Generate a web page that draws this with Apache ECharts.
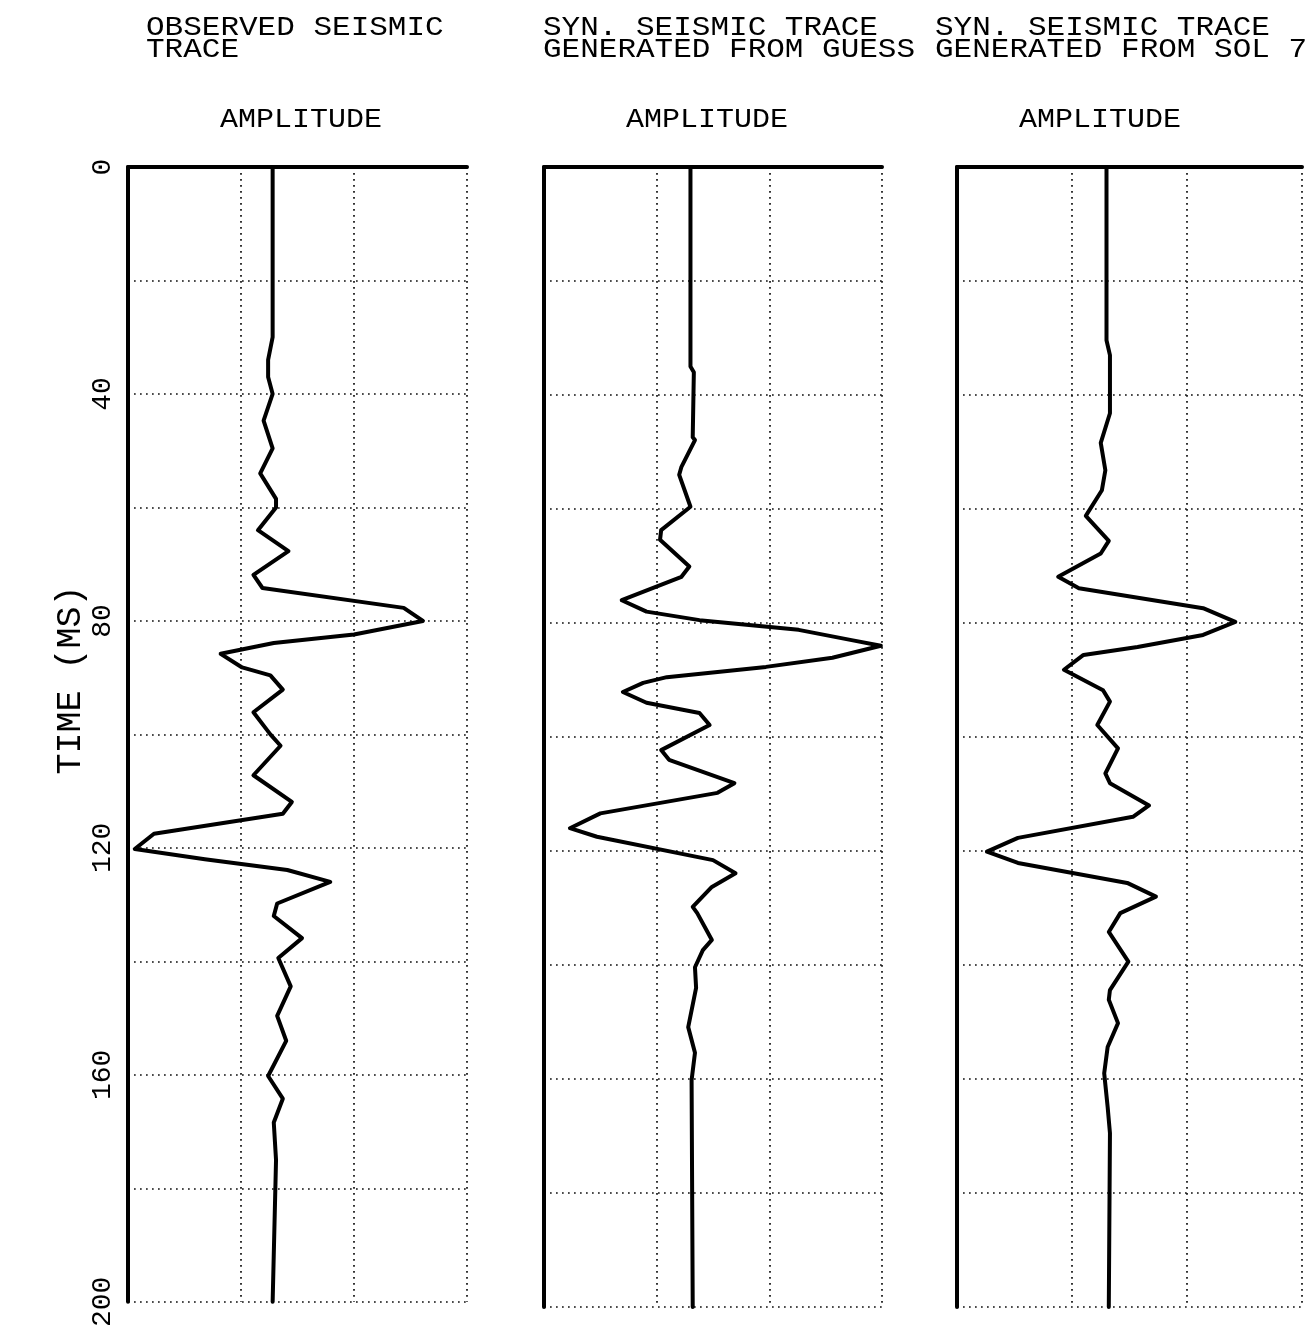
<!DOCTYPE html>
<html><head><meta charset="utf-8">
<script src="https://cdn.jsdelivr.net/npm/echarts@6/dist/echarts.min.js"></script>
<style>html,body{margin:0;padding:0;background:#fff}#chart{width:1310px;height:1330px}</style>
</head><body><div id="chart"></div>
<script>
// ---- data ----
const timeTickLabels = [0, 40, 80, 120, 160, 200];
const panelTitles = ['OBSERVED SEISMIC\nTRACE', 'SYN. SEISMIC TRACE\nGENERATED FROM GUESS', 'SYN. SEISMIC TRACE\nGENERATED FROM SOL 7'];
const ampAxisName = 'AMPLITUDE';
const timeAxisName = 'TIME (MS)';

const obsTime = [0, 30, 34, 37, 40, 44.7, 49.6, 54, 58.5, 60, 64, 67.7, 71.9, 74.2, 77.7, 80, 82.4, 83.9, 85.8, 88.2, 89.6, 92.1, 96.1, 100, 102, 107.2, 111.9, 114, 117.5, 120.2, 122, 123.9, 126, 129.8, 132, 135.9, 139.4, 144.4, 149.6, 154, 160.2, 164.2, 168.4, 175, 200];
const obsAmp  = [0, 0, -0.04, -0.04, 0, -0.08, 0, -0.11, 0.03, 0.03, -0.13, 0.14, -0.17, -0.09, 1.16, 1.33, 0.72, 0.01, -0.46, -0.27, -0.02, 0.09, -0.17, -0.02, 0.07, -0.17, 0.17, 0.09, -1.05, -1.22, -0.6, 0.13, 0.51, 0.04, 0.01, 0.26, 0.05, 0.16, 0.04, 0.12, -0.04, 0.09, 0.01, 0.03, 0];

const guessTime = [0, 35, 36, 47.4, 47.9, 52.6, 54, 59.6, 63.7, 65.4, 70.1, 71.9, 76, 78, 79.5, 81.2, 83, 84, 86.1, 87.7, 89.5, 90.5, 92.1, 94, 95.8, 97.9, 102.3, 104, 108.1, 109.8, 113.4, 116, 117.5, 121.6, 123.9, 126.3, 129.8, 130.9, 135.6, 137.4, 140.4, 144, 150.9, 155.4, 160.2, 200];
const guessAmp  = [0, 0, 0.03, 0.02, 0.04, -0.08, -0.1, 0, -0.26, -0.27, -0.01, -0.08, -0.61, -0.39, 0.08, 0.96, 1.43, 1.69, 1.26, 0.67, -0.21, -0.42, -0.6, -0.39, 0.08, 0.17, -0.26, -0.19, 0.39, 0.24, -0.8, -1.07, -0.83, 0.2, 0.4, 0.19, 0.02, 0.06, 0.19, 0.11, 0.04, 0.05, -0.02, 0.04, 0.01, 0.02];

const solTime = [0, 30.4, 33, 43.2, 48.4, 53.2, 56.7, 61.2, 65.6, 67.8, 71.9, 73.9, 77.4, 79.8, 82.1, 84.2, 85.6, 88.2, 91.8, 93.8, 97.9, 102, 106.4, 108.1, 112, 114, 117.7, 120.1, 122.1, 125.6, 128, 130.9, 134.2, 139.4, 144.4, 146.1, 150.2, 154.4, 159, 164.9, 169.5, 200];
const solAmp  = [0, 0, 0.03, 0.03, -0.05, -0.01, -0.04, -0.18, 0.02, -0.05, -0.42, -0.24, 0.84, 1.12, 0.84, 0.27, -0.2, -0.37, -0.03, 0.03, -0.08, 0.1, -0.01, 0.03, 0.37, 0.23, -0.77, -1.04, -0.77, 0.18, 0.43, 0.12, 0.02, 0.19, 0.03, 0.02, 0.1, 0.01, -0.02, 0.01, 0.03, 0.02];

// ---- layout ----
const traces = [[obsTime, obsAmp], [guessTime, guessAmp], [solTime, solAmp]];
const ampRanges = [[-1.28, 1.72], [-1.3, 1.7], [-1.3, 1.7]];
const grids = [
  {left: 128, top: 167, width: 339, height: 1140},
  {left: 544, top: 167, width: 338, height: 1140},
  {left: 957, top: 167, width: 345, height: 1140}
];
const titlePos = [146, 543, 935];
const ampNamePos = [301, 707, 1100];
const FONT = '"Liberation Mono", "DejaVu Sans Mono", monospace';
const dotted = {type: [1.7, 4.3], color: '#111', width: 1.7};

const chart = echarts.init(document.getElementById('chart'), null, {renderer: 'canvas'});
const option = {
  animation: false,
  backgroundColor: '#fff',
  grid: grids,
  xAxis: grids.map((g, i) => ({
    type: 'value', gridIndex: i, position: 'top',
    min: ampRanges[i][0], max: ampRanges[i][1], interval: 1,
    axisLine: {show: true, onZero: false, lineStyle: {color: '#000', width: 4}},
    axisTick: {show: false}, axisLabel: {show: false},
    splitLine: {show: true, lineStyle: dotted}
  })),
  yAxis: grids.map((g, i) => ({
    type: 'value', gridIndex: i, inverse: true,
    min: 0, max: 200, interval: 20,
    axisLine: {show: true, onZero: false, lineStyle: {color: '#000', width: 4}},
    axisTick: {show: false},
    axisLabel: {
      show: i === 0, rotate: 90, margin: 11, color: '#000',
      fontFamily: FONT, fontSize: 28,
      formatter: v => timeTickLabels.includes(v) ? String(v) : ''
    },
    splitLine: {show: true, lineStyle: dotted}
  })),
  series: traces.map((tr, i) => ({
    type: 'line', xAxisIndex: i, yAxisIndex: i,
    data: tr[0].map((t, k) => [tr[1][k], t]),
    symbol: 'none', clip: false,
    lineStyle: {color: '#000', width: 4, join: 'round', cap: 'round'}
  })),
  graphic: [
    ...panelTitles.map((t, i) => ({
      type: 'text', x: titlePos[i], y: 17, scaleY: 0.88,
      style: {text: t, font: '31px ' + FONT, fill: '#000', lineHeight: 25, align: 'left', verticalAlign: 'top'}
    })),
    ...ampNamePos.map(x => ({
      type: 'text', x: x, y: 120, scaleY: 0.92,
      style: {text: ampAxisName, font: '30px ' + FONT, fill: '#000', align: 'center', verticalAlign: 'middle'}
    })),
    {
      type: 'text', x: 71, y: 680, rotation: Math.PI / 2,
      style: {text: timeAxisName, font: '35px ' + FONT, fill: '#000', align: 'center', verticalAlign: 'middle'}
    }
  ]
};
chart.setOption(option);
</script>
</body></html>
